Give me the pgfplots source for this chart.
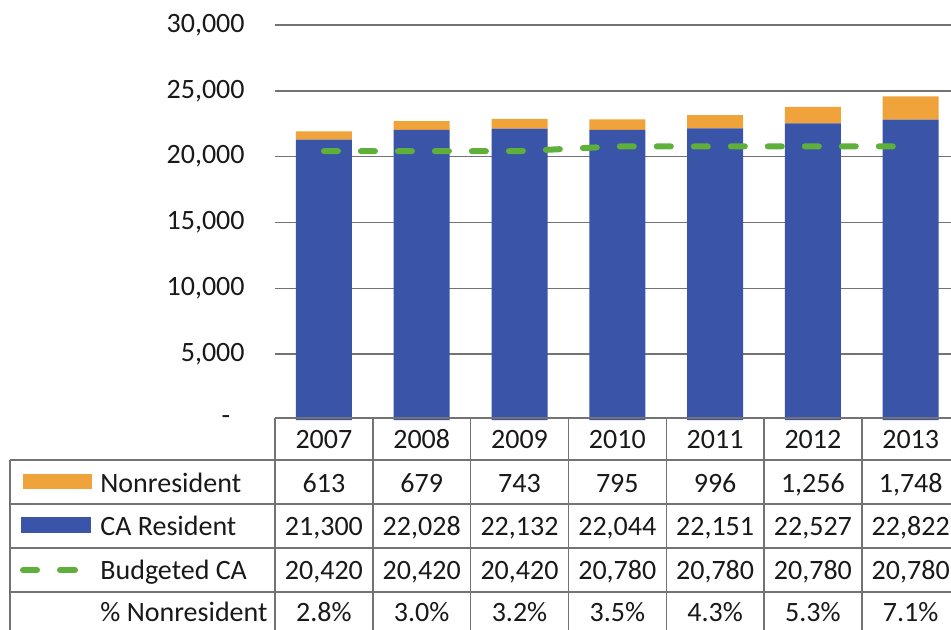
\documentclass[border=0pt]{standalone}
\usepackage{pgfplots}
\pgfplotsset{compat=1.18}
\usepackage{fontspec}
\setmainfont{Carlito}
\definecolor{orng}{RGB}{240,163,58}
\definecolor{blu}{RGB}{58,84,168}
\definecolor{grn}{RGB}{94,176,58}
\definecolor{txt}{RGB}{25,25,25}
\definecolor{tline}{RGB}{115,115,115}
\newcommand{\tf}{\fontsize{14}{16}\selectfont}
\newcommand{\cw}{97.8}
\begin{document}
\begin{tikzpicture}[x=0.5pt,y=-0.5pt]
\useasboundingbox (0,0) rectangle (951,630);
\clip (0,0) rectangle (951,630);
\fill[white] (0,0) rectangle (951,630);
\begin{axis}[
  at={(137.5pt,-210pt)}, anchor=south west,
  scale only axis, width=338pt, height=197.5pt,
  xmin=-0.5, xmax=6.412, ymin=0, ymax=30000,
  ybar stacked, bar width=28pt,
  axis line style={draw=none},
  xtick=\empty, ytick={5000,10000,15000,20000,25000,30000},
  major tick length=0pt,
  ymajorgrids, grid style={tline, line width=0.7pt},
  /pgf/number format/.cd, 1000 sep={,}, assume math mode=true,
  /pgfplots/.cd,
  yticklabel style={font=\tf, text=txt, inner sep=0pt, anchor=east, xshift=-15pt},
  scaled y ticks=false,
  clip=false,
]
\addplot[fill=blu, draw=none] coordinates {(0,21300) (1,22028) (2,22132) (3,22044) (4,22151) (5,22527) (6,22822)};
\addplot[fill=orng, draw=none] coordinates {(0,613) (1,679) (2,743) (3,795) (4,996) (5,1256) (6,1748)};
\node[font=\tf, text=txt] at (axis cs:-0.5,0) [xshift=-24.5pt] {-};
\end{axis}
\begin{axis}[
  at={(137.5pt,-210pt)}, anchor=south west,
  scale only axis, width=338pt, height=197.5pt,
  xmin=-0.5, xmax=6.412, ymin=0, ymax=30000,
  hide axis,
]
\addplot[grn, line width=3pt, dash pattern=on 7pt off 11.5pt, line cap=round, mark=none] coordinates {(0,20420) (1,20420) (2,20420) (3,20780) (4,20780) (5,20780) (6,20780)};
\end{axis}
% table lines
\begin{scope}[tline, line width=0.7pt]
\draw (275,418) -- (970,418);
\foreach \yy in {460,504,548,592} \draw (10,\yy) -- (970,\yy);
\draw (10,460) -- (10,640);
\foreach \i in {0,...,7} \draw ({275+\cw*\i},418) -- ({275+\cw*\i},640);
\end{scope}
% legend keys
\fill[orng] (23,474) rectangle (92,489);
\fill[blu] (21,517) rectangle (91,533);
\draw[grn, line width=3pt, line cap=round] (23,570) -- (37,570);
\draw[grn, line width=3pt, line cap=round] (60,570) -- (75,570);
% row labels
\begin{scope}[every node/.style={font=\tf, text=txt, inner sep=0pt, anchor=base west}]
\node at (100,492) {Nonresident};
\node at (100,535) {CA Resident};
\node at (100,579) {Budgeted CA};
\node at (100,621) {\% Nonresident};
\end{scope}
% table values
\begin{scope}[every node/.style={font=\tf, text=txt, inner sep=0pt, anchor=base}]
\foreach \v [count=\i from 0] in {2007,2008,2009,2010,2011,2012,2013}
  \node at ({275+\cw*(\i+0.5)},448) {\v};
\foreach \v [count=\i from 0] in {613,679,743,795,996,{1,256},{1,748}}
  \node at ({275+\cw*(\i+0.5)},492) {\v};
\foreach \v [count=\i from 0] in {{21,300},{22,028},{22,132},{22,044},{22,151},{22,527},{22,822}}
  \node at ({275+\cw*(\i+0.5)},535) {\v};
\foreach \v [count=\i from 0] in {{20,420},{20,420},{20,420},{20,780},{20,780},{20,780},{20,780}}
  \node at ({275+\cw*(\i+0.5)},579) {\v};
\foreach \v [count=\i from 0] in {2.8\%,3.0\%,3.2\%,3.5\%,4.3\%,5.3\%,7.1\%}
  \node at ({275+\cw*(\i+0.5)},621) {\v};
\end{scope}
\end{tikzpicture}
\end{document}
